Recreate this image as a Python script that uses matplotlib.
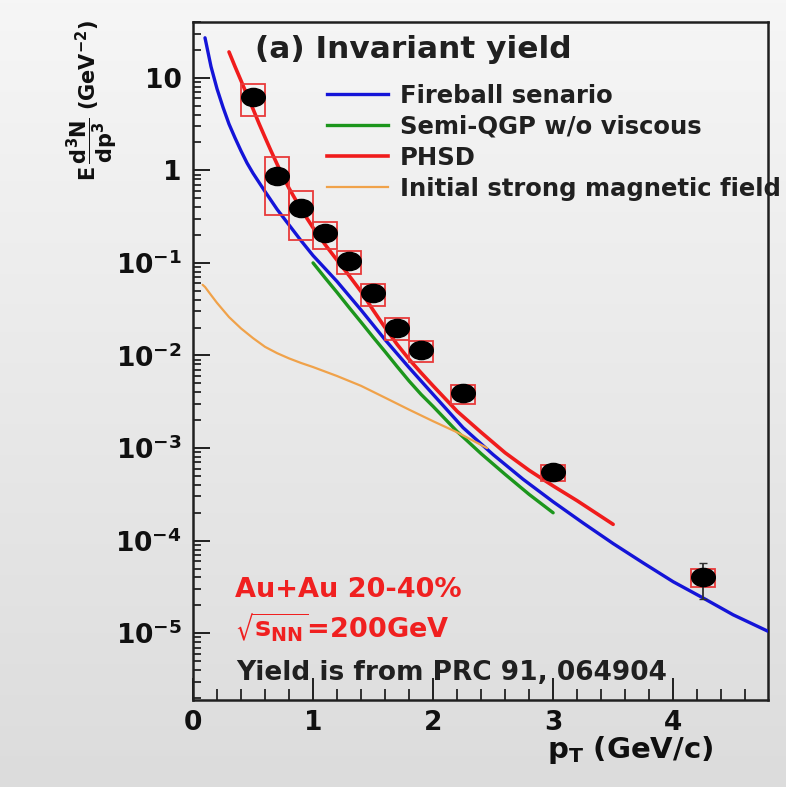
import numpy as np
import matplotlib
matplotlib.use("Agg")
import matplotlib.pyplot as plt
from matplotlib.lines import Line2D
from matplotlib.path import Path
from matplotlib.transforms import Affine2D
from matplotlib.ticker import FixedLocator, FixedFormatter, LogLocator, NullFormatter, MultipleLocator

plt.rcParams['font.family'] = ['DejaVu Sans']
plt.rcParams['font.weight'] = 'bold'
plt.rcParams['mathtext.fontset'] = 'dejavusans'

# ---- measured direct-photon yield (Au+Au 20-40%) ----
pt_data = [0.5, 0.7, 0.9, 1.1, 1.3, 1.5, 1.7, 1.9, 2.25, 3.0, 4.25]
yield_data = [6.2, 0.86, 0.39, 0.21, 0.106, 0.047, 0.020, 0.0115, 0.0039, 5.5e-4, 4.0e-5]
stat_rel = [0.05, 0.12, 0.08, 0.05, 0.05, 0.05, 0.05, 0.05, 0.08, 0.10, 0.42]
sys_rel = [0.37, 0.62, 0.55, 0.32, 0.28, 0.27, 0.26, 0.26, 0.24, 0.20, 0.22]

# ---- model curves ----
pt_fireball = [0.10, 0.15, 0.20, 0.25, 0.30, 0.35, 0.40, 0.45, 0.50, 0.60, 0.70, 0.80, 0.90,
               1.00, 1.20, 1.40, 1.60, 1.80, 2.00, 2.25, 2.50, 2.75, 3.00, 3.25, 3.50,
               3.75, 4.00, 4.25, 4.50, 4.79]
y_fireball = [27.0, 13.2, 7.6, 4.8, 3.16, 2.24, 1.62, 1.20, 0.93, 0.59, 0.38, 0.257, 0.174,
              0.120, 0.063, 0.031, 0.0148, 7.4e-3, 3.8e-3, 1.66e-3, 8.5e-4, 4.6e-4, 2.63e-4,
              1.55e-4, 9.3e-5, 5.75e-5, 3.6e-5, 2.4e-5, 1.58e-5, 1.05e-5]

pt_semiqgp = [1.00, 1.10, 1.20, 1.30, 1.40, 1.50, 1.60, 1.70, 1.80, 1.90, 2.00, 2.20, 2.40,
              2.60, 2.80, 3.00]
y_semiqgp = [0.100, 0.069, 0.048, 0.033, 0.0229, 0.0158, 0.0110, 7.6e-3, 5.3e-3, 3.8e-3,
             2.82e-3, 1.51e-3, 8.7e-4, 5.2e-4, 3.16e-4, 2.0e-4]

pt_phsd = [0.30, 0.35, 0.40, 0.45, 0.50, 0.55, 0.60, 0.65, 0.70, 0.75, 0.80, 0.90, 1.00,
           1.10, 1.20, 1.30, 1.40, 1.50, 1.60, 1.70, 1.80, 1.90, 2.00, 2.20, 2.40, 2.60,
           2.80, 3.00, 3.20, 3.50]
y_phsd = [19.0, 13.2, 9.3, 6.5, 4.6, 3.2, 2.27, 1.62, 1.17, 0.86, 0.64, 0.38, 0.240,
          0.158, 0.107, 0.073, 0.049, 0.031, 0.020, 0.0132, 9.1e-3, 6.5e-3, 4.7e-3, 2.5e-3,
          1.48e-3, 8.9e-4, 5.75e-4, 3.9e-4, 2.7e-4, 1.5e-4]

pt_magnetic = [0.08, 0.10, 0.15, 0.20, 0.25, 0.30, 0.40, 0.50, 0.60, 0.70, 0.80, 0.90, 1.00,
               1.20, 1.40, 1.60, 1.80, 2.00, 2.20, 2.45]
y_magnetic = [0.058, 0.055, 0.045, 0.037, 0.031, 0.026, 0.0196, 0.0154, 0.0124, 0.0106,
              0.0093, 0.0083, 0.0075, 0.0060, 0.0047, 0.0035, 0.0026, 0.00195, 0.00148, 0.00100]

model_labels = ["Fireball senario", "Semi-QGP w/o viscous", "PHSD", "Initial strong magnetic field"]
model_colors = ["#1414d8", "#1c961c", "#f01c1c", "#f0a24a"]

ytick_vals = [1e-5, 1e-4, 1e-3, 1e-2, 1e-1, 1, 10]
ytick_text = [r"$\mathbf{10^{-5}}$", r"$\mathbf{10^{-4}}$", r"$\mathbf{10^{-3}}$",
              r"$\mathbf{10^{-2}}$", r"$\mathbf{10^{-1}}$", "1", "10"]
xtick_vals = [0, 1, 2, 3, 4]

W, H = 786, 787
fig = plt.figure(figsize=(W / 100, H / 100), dpi=100)

# soft vertical gradient behind everything
bg = fig.add_axes([0, 0, 1, 1], zorder=-10)
grad = np.linspace(0, 1, 256).reshape(-1, 1)
bg.imshow(grad, aspect="auto", cmap=matplotlib.colors.LinearSegmentedColormap.from_list(
    "bgfade", ["#f6f6f6", "#dcdcdc"]), extent=[0, 1, 0, 1], origin="upper")
bg.set_axis_off()

x0, x1 = 193, 768
y0, y1 = 22, 700
ax = fig.add_axes([x0 / W, 1 - y1 / H, (x1 - x0) / W, (y1 - y0) / H])
ax.set_facecolor("none")
ax.set_yscale("log")
ax.set_xlim(0, 4.79)
ax.set_ylim(1.9e-6, 40)

for s in ax.spines.values():
    s.set_linewidth(1.8)
    s.set_color("#202020")

# curves
model_x = [pt_fireball, pt_semiqgp, pt_phsd, pt_magnetic]
model_y = [y_fireball, y_semiqgp, y_phsd, y_magnetic]
widths = [2.4, 2.4, 2.6, 1.6]
handles = []
for xs, ys, c, lw in zip(model_x, model_y, model_colors, widths):
    ax.plot(xs, ys, color=c, lw=lw, solid_capstyle="round", solid_joinstyle="round", zorder=3)
    handles.append(Line2D([], [], color=c, lw=lw))

# systematic boxes
pt_arr = np.array(pt_data)
y_arr = np.array(yield_data)
sys_arr = np.array(sys_rel)
ax.bar(pt_arr, 2 * sys_arr * y_arr, bottom=y_arr * (1 - sys_arr), width=0.2,
       fill=False, edgecolor="#e83a3a", linewidth=1.3, zorder=4)

# data points with statistical errors
ellipse = Path.unit_circle().transformed(Affine2D().scale(1.3, 1.0))
stat_arr = np.array(stat_rel)
ax.errorbar(pt_arr, y_arr, yerr=stat_arr * y_arr, fmt="none", ecolor="#303030",
            elinewidth=1.3, capsize=3, zorder=5)
ax.plot(pt_arr, y_arr, linestyle="none", marker=ellipse, markersize=17,
        color="black", zorder=6)

# ticks
ax.yaxis.set_major_locator(FixedLocator(ytick_vals))
ax.yaxis.set_major_formatter(FixedFormatter(ytick_text))
ax.yaxis.set_minor_locator(LogLocator(base=10, subs=np.arange(2, 10), numticks=20))
ax.yaxis.set_minor_formatter(NullFormatter())
ax.xaxis.set_major_locator(FixedLocator(xtick_vals))
ax.xaxis.set_minor_locator(MultipleLocator(0.2))
ax.tick_params(axis="y", which="major", direction="in", length=12, width=1.3,
               labelsize=19, pad=8, colors="#101010")
ax.tick_params(axis="y", which="minor", direction="in", length=6, width=1.1)
ax.tick_params(axis="x", which="major", direction="in", length=16, width=1.3,
               labelsize=19, pad=7, colors="#101010")
ax.tick_params(axis="x", which="minor", direction="in", length=8, width=1.1)
for lab in ax.get_xticklabels() + ax.get_yticklabels():
    lab.set_fontweight("bold")

# axis titles
fig.text(713 / W, 1 - 750 / H, r"p$_\mathbf{T}$ (GeV/c)", ha="right", va="center",
         fontsize=21, fontweight="bold", color="#101010")
fig.text(92 / W, 1 - 20 / H, r"$\mathbf{E\,\dfrac{d^{3}N}{dp^{3}}}$ (GeV$^{\mathbf{-2}}$)",
         rotation=90, ha="center", va="top", fontsize=15, fontweight="bold", color="#101010")

# annotations
ax.text(0.108, 0.959, "(a) Invariant yield", transform=ax.transAxes, fontsize=22.5,
        fontweight="bold", ha="left", va="center", color="#202020")
ax.text(0.073, 0.162, "Au+Au 20-40%", transform=ax.transAxes, fontsize=19.5,
        fontweight="bold", ha="left", va="center", color="#f02020")
ax.text(0.073, 0.108, r"$\mathbf{\sqrt{s_{NN}}}$=200GeV", transform=ax.transAxes,
        fontsize=19.5, fontweight="bold", ha="left", va="center", color="#f02020")
ax.text(0.075, 0.040, "Yield is from PRC 91, 064904", transform=ax.transAxes, fontsize=19,
        fontweight="bold", ha="left", va="center", color="#202020")

leg = ax.legend(handles, model_labels, loc="upper left", bbox_to_anchor=(0.233, 0.909),
                frameon=False, borderaxespad=0, borderpad=0, handlelength=2.5,
                handletextpad=0.5, labelspacing=0.29,
                prop={"size": 17.5, "weight": "bold"})
for t in leg.get_texts():
    t.set_color("#202020")

fig.savefig("out.png", dpi=100)
